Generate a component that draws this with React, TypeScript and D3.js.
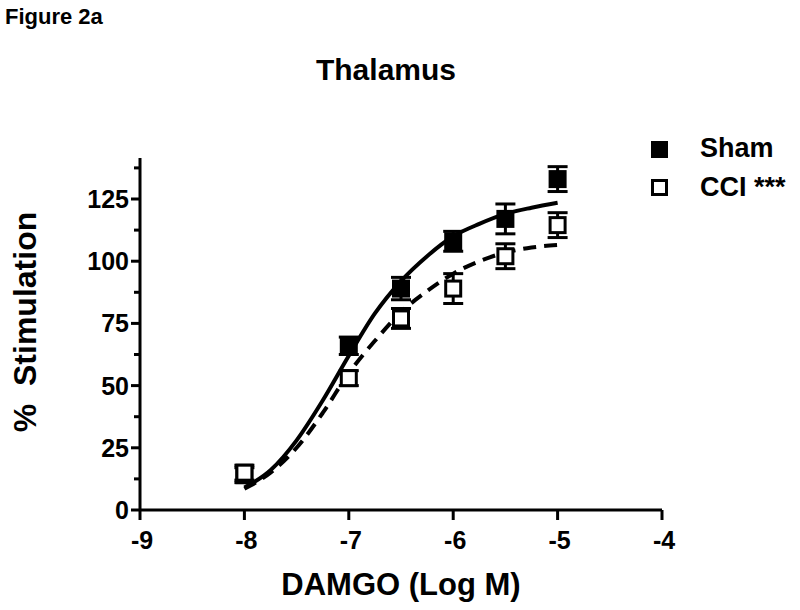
import React from 'react';
import * as d3 from 'd3';

// dose (log M) at which each point was measured
const doses = [-8, -7, -6.5, -6, -5.5, -5];

// mean % stimulation and SEM
const shamMeans = [14, 66, 89, 108, 117, 133];
const shamSem = [3, 3.5, 4.5, 4, 6, 5];
const cciMeans = [15, 53, 77, 89, 102, 114.5];
const cciSem = [3, 3, 4, 6, 5, 5];

// fitted curves, sampled from the figure
const curveX = [-8, -7.75, -7.5, -7.25, -7, -6.75, -6.5, -6.25, -6, -5.75, -5.5, -5.25, -5];
const shamCurve = [9, 16, 28, 44, 62, 79, 92, 102, 110, 115, 119, 121.5, 123.5];
const cciCurve = [8.5, 15, 25, 39, 55, 68, 79.5, 88, 95, 100, 103.5, 105.5, 106.5];

const xTicks = [-9, -8, -7, -6, -5, -4];
const yTicks = [0, 25, 50, 75, 100, 125];
const yMinor = [12.5, 37.5, 62.5, 87.5, 112.5, 137.5];

const FONT = 'Liberation Sans, Arial, sans-serif';

export default function App() {
    const width = 800;
    const height = 610;

    const x = d3.scaleLinear().domain([-9, -4]).range([140, 662]);
    const y = d3.scaleLinear().domain([0, 125]).range([510, 199]);
    const yTop = 141.5;

    const line = d3.line<number>()
        .x((_, i) => x(curveX[i]))
        .y((d) => y(d))
        .curve(d3.curveMonotoneX);

    const sq = 18;

    const errorBars = (means: number[], sem: number[]) =>
        doses.map((d, i) => (
            <g key={i} stroke="#000" strokeWidth={3}>
                <line x1={x(d)} x2={x(d)} y1={y(means[i] - sem[i])} y2={y(means[i] + sem[i])} />
                <line x1={x(d) - 10} x2={x(d) + 10} y1={y(means[i] + sem[i])} y2={y(means[i] + sem[i])} />
                <line x1={x(d) - 10} x2={x(d) + 10} y1={y(means[i] - sem[i])} y2={y(means[i] - sem[i])} />
            </g>
        ));

    return (
        <svg width={width} height={height} style={{ position: 'absolute', left: 0, top: 0, background: '#fff' }}
            fontFamily={FONT} fontWeight="bold">
            <text x={5} y={24} fontSize={22}>Figure 2a</text>
            <text x={386} y={80} fontSize={30} textAnchor="middle">Thalamus</text>

            {/* axes */}
            <g stroke="#000" strokeWidth={3}>
                <line x1={x(-9)} x2={x(-9)} y1={y(0)} y2={y(yTop)} />
                <line x1={x(-9)} x2={x(-4)} y1={y(0)} y2={y(0)} />
                {yTicks.map(t => (
                    <line key={t} x1={x(-9) - 9} x2={x(-9)} y1={y(t)} y2={y(t)} />
                ))}
                {yMinor.map(t => (
                    <line key={t} x1={x(-9) - 6} x2={x(-9)} y1={y(t)} y2={y(t)} />
                ))}
                {xTicks.map(t => (
                    <line key={t} x1={x(t)} x2={x(t)} y1={y(0)} y2={y(0) + 10} />
                ))}
            </g>
            {yTicks.map(t => (
                <text key={t} x={x(-9) - 11} y={y(t)} dy="0.36em" fontSize={25} textAnchor="end">{t}</text>
            ))}
            {xTicks.map(t => (
                <text key={t} x={x(t) + 2} y={549} fontSize={25} textAnchor="middle">{t}</text>
            ))}
            <text x={401} y={595} fontSize={31} textAnchor="middle">DAMGO (Log M)</text>
            <text transform={`translate(36, 322) rotate(-90)`} fontSize={32} textAnchor="middle"
                style={{ whiteSpace: 'pre' }}>%  Stimulation</text>

            {/* fitted curves */}
            <path d={line(shamCurve) || ''} fill="none" stroke="#000" strokeWidth={4} />
            <path d={line(cciCurve) || ''} fill="none" stroke="#000" strokeWidth={4} strokeDasharray="13,8" />

            {/* error bars */}
            {errorBars(shamMeans, shamSem)}
            {errorBars(cciMeans, cciSem)}

            {/* points */}
            {doses.map((d, i) => (
                <rect key={'s' + i} x={x(d) - sq / 2} y={y(shamMeans[i]) - sq / 2} width={sq} height={sq} fill="#000" />
            ))}
            {doses.map((d, i) => (
                <rect key={'c' + i} x={x(d) - sq / 2 + 1.5} y={y(cciMeans[i]) - sq / 2 + 1.5} width={sq - 3} height={sq - 3}
                    fill="#fff" stroke="#000" strokeWidth={3} />
            ))}

            {/* legend */}
            <rect x={651} y={141} width={17} height={17} fill="#000" />
            <text x={700} y={157} fontSize={27}>Sham</text>
            <rect x={652.5} y={180.5} width={14} height={14} fill="#fff" stroke="#000" strokeWidth={3} />
            <text x={700} y={196} fontSize={27}>CCI ***</text>
        </svg>
    );
}
